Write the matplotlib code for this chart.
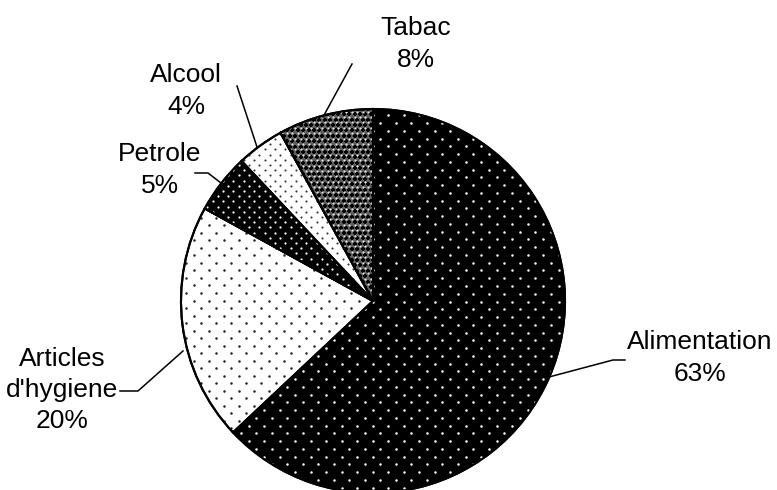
import numpy as np
import matplotlib
matplotlib.use("Agg")
import matplotlib.pyplot as plt
from matplotlib.patches import Wedge

plt.rcParams['font.family'] = ['Liberation Sans', 'DejaVu Sans']

categories = ["Alimentation", "Articles\nd'hygiene", "Petrole", "Alcool", "Tabac"]
values = [63, 20, 5, 4, 8]
pct_labels = ["63%", "20%", "5%", "4%", "8%"]

W, H = 777, 490
fig = plt.figure(figsize=(W / 100, H / 100), dpi=100)
ax = fig.add_axes([0, 0, 1, 1])

def Y(y):
    return H - y

cx, cy, R = 373, Y(301), 192

face = ['black', 'white', 'black', 'white', '#5e5e5e']
wedges, _ = ax.pie(values, startangle=90, counterclock=False, center=(cx, cy),
                   radius=R, colors=face, frame=True,
                   wedgeprops=dict(edgecolor='black', linewidth=1.5))
ax.set_xlim(0, W)
ax.set_ylim(0, H)
ax.set_aspect('auto')
ax.axis('off')

# texture patterns (dot lattices) clipped to each wedge
def lattice(dx, dy):
    xs, ys = [], []
    j = 0
    y = cy - R - 10
    while y < cy + R + 10:
        off = (j % 2) * dx / 2
        x = cx - R - 10 + off
        while x < cx + R + 10:
            xs.append(x); ys.append(y)
            x += dx
        y += dy
        j += 1
    return np.array(xs), np.array(ys)

textures = [
    dict(dx=15.5, dy=7.75, color='white', ms=1.8),
    dict(dx=15.0, dy=7.5, color='#222222', ms=1.8),
    dict(dx=10.4, dy=5.2, color='white', ms=1.6),
    dict(dx=10.4, dy=5.2, color='#333333', ms=1.5),
]
for w, t in zip(wedges[:4], textures):
    xs, ys = lattice(t['dx'], t['dy'])
    ln, = ax.plot(xs, ys, 'o', ms=t['ms'], mfc=t['color'], mec='none', zorder=3)
    ln.set_clip_path(w)

# Tabac: grey with black crosses and white dots
xs, ys = lattice(5.4, 5.4)
ln, = ax.plot(xs, ys, '+', ms=3.4, mew=1.4, color='black', zorder=3)
ln.set_clip_path(wedges[4])
ln, = ax.plot(xs + 2.7, ys + 2.7, 'o', ms=1.5, mfc='#e6e6e6', mec='none', zorder=3)
ln.set_clip_path(wedges[4])

# redraw outlines on top
for w in wedges:
    ax.add_patch(Wedge(w.center, w.r, w.theta1, w.theta2, fill=False,
                       edgecolor='black', linewidth=1.5, zorder=4))

fs = 19
labels = [
    (700, 358, categories[0] + "\n" + pct_labels[0]),
    (62, 390, categories[1] + "\n" + pct_labels[1]),
    (160, 170, categories[2] + "\n" + pct_labels[2]),
    (186, 91, categories[3] + "\n" + pct_labels[3]),
    (416, 44, categories[4] + "\n" + pct_labels[4]),
]
for x, y, s in labels:
    ax.text(x, Y(y), s, ha='center', va='center', fontsize=fs,
            linespacing=1.38, color='black', zorder=5)

leaders = [
    [(549, 377), (613, 360), (625, 360)],
    [(120, 391), (138, 391), (183, 351)],
    [(195, 173), (208, 173), (221, 183)],
    [(237, 86), (257, 147)],
    [(352, 64), (323, 117)],
]
for pts in leaders:
    px = [p[0] for p in pts]
    py = [Y(p[1]) for p in pts]
    ax.plot(px, py, color='black', lw=1.1, zorder=5)

fig.savefig('out.png', dpi=100)
